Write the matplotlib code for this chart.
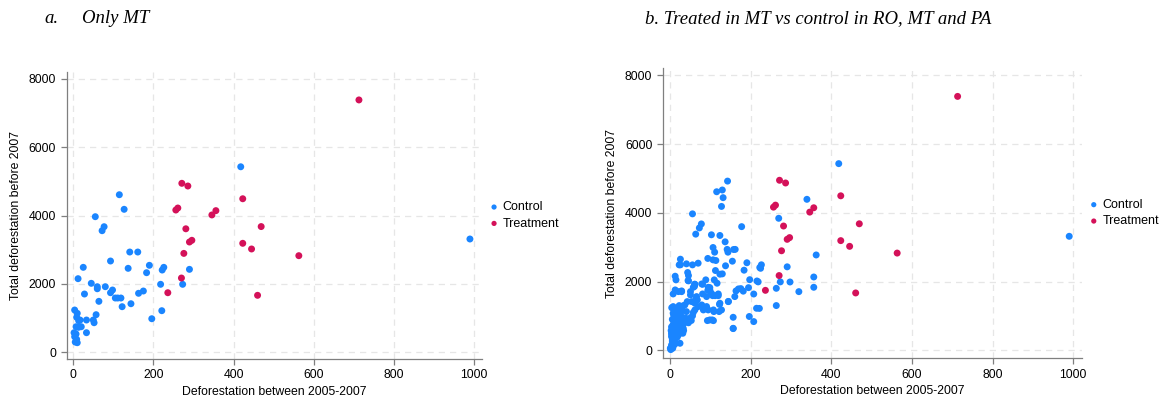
import matplotlib
matplotlib.use('Agg')
import matplotlib.pyplot as plt
import numpy as np

# -------------------------------------------------------------------
# data (x = deforestation 2005-2007, y = total before 2007)
# control municipalities in MT
ctrl_mt_x = [418, 115, 127, 55, 77, 72, 141, 161, 93, 137, 190, 183, 226, 222, 290,
             25, 12, 45, 28, 60, 60, 80, 98, 93, 105, 111, 119, 122, 64, 144,
             163, 175, 218, 273, 221, 196, 57, 50, 52, 33, 33, 3.5, 10, 8.5, 13.5,
             17, 7, 13, 20, 2, 7, 3.5, 8.5, 5, 10, 990]
ctrl_mt_y = [5430, 4612, 4185, 3969, 3676, 3559, 2935, 2935, 2672, 2458, 2546, 2330, 2487, 2408, 2428,
             2487, 2155, 2019, 1706, 1920, 1860, 1920, 1823, 1744, 1589, 1589, 1589, 1335, 1492, 1422,
             1727, 1794, 1990, 1990, 1218, 983, 1101, 945, 866, 574, 945, 1238, 1141, 1024, 925,
             945, 749, 731, 749, 574, 536, 457, 380, 301, 281, 3316]

# extra control municipalities (RO, PA and rest of MT) shown only in panel b
ctrl_other_x = [142, 129, 131, 339, 269, 177, 63, 102, 123, 136, 106, 110, 143, 157, 154,
                362, 106, 113, 69, 40, 25, 22, 55, 43, 45, 14, 44, 88, 112, 109,
                123, 129, 116, 197, 215, 207, 156, 207, 263, 263, 297, 319, 356, 356, 108,
                92, 104, 90, 121, 61, 57, 78, 94, 98, 102, 119, 169, 160, 214,
                12, 20, 28, 7, 50, 50, 80, 65, 67, 61, 53, 42, 36, 31, 90,
                94, 107, 123, 127, 144, 98, 107, 156, 156, 20, 22, 24, 40, 39, 49,
                61, 69, 78, 82, 7, 7, 9, 12, 9, 3, 3, 7, 14, 24, 3,
                0, 16, 20, 24, 32, 31, 34, 1, 2, 4, 5, 6, 8, 10, 12,
                3, 15, 18, 26, 5, 11, 14, 22, 30, 36, 45, 55, 25, 17, 9,
                6, 194, 181, 224]
ctrl_other_y = [4922, 4663, 4440, 4392, 3840, 3597, 3379, 3360, 3340, 3155, 2990, 2854, 2854, 2932, 2592,
                2773, 2631, 2612, 2534, 2515, 2650, 2485, 2485, 2262, 2175, 2049, 2029, 2049, 2320, 2049,
                2214, 2223, 1951, 2054, 2016, 1637, 631, 835, 1301, 1803, 1987, 1706, 2132, 1833, 1126,
                864, 883, 1272, 1126, 1921, 1833, 1930, 1833, 1756, 1659, 1639, 1785, 1562, 1222,
                1756, 1707, 1727, 1639, 1707, 1610, 1639, 1562, 1465, 1368, 1416, 1416, 1319, 1290, 1562,
                1174, 1174, 1368, 1174, 1416, 883, 863, 960, 640, 1174, 1028, 883, 1125, 931, 883,
                1174, 1271, 1319, 1174, 1271, 1077, 883, 737, 592, 495, 398, 301, 204, 204, 155,
                58, 592, 446, 689, 640, 495, 786, 20, 80, 120, 260, 350, 420, 520, 610,
                680, 800, 950, 1000, 900, 1100, 1200, 1300, 1150, 900, 800, 1000, 560, 380, 150,
                60, 1822, 1720, 2385]

# treated municipalities in MT (same in both panels)
treat_x = [271, 286, 256, 261, 346, 356, 423, 281, 290, 296, 276, 270, 236,
           423, 445, 469, 460, 563, 713]
treat_y = [4946, 4867, 4164, 4223, 4020, 4146, 4494, 3615, 3228, 3278, 2895, 2174, 1744,
           3190, 3024, 3680, 1668, 2828, 7386]

titles = ['a.', 'Only MT', 'b. Treated in MT vs control in RO, MT and PA']
xlab = 'Deforestation between 2005-2007'
ylab = 'Total deforestation before 2007'
c_ctrl = '#1a85ff'
c_treat = '#d41159'

plt.rcParams['font.family'] = ['Liberation Sans', 'DejaVu Sans']

fig = plt.figure(figsize=(11.63, 3.97), dpi=100)
ax1 = fig.add_axes([0.0573, 0.0957, 0.3571, 0.7229])
ax2 = fig.add_axes([0.5698, 0.0975, 0.3603, 0.7312])

panels = [
    (ax1, ctrl_mt_x, ctrl_mt_y, (-16.5, 1020), (-196, 8203)),
    (ax2, ctrl_mt_x + ctrl_other_x, ctrl_mt_y + ctrl_other_y, (-19, 1021), (-233, 8212)),
]

for ax, cx, cy, xl, yl in panels:
    ax.scatter(cx, cy, s=25, color=c_ctrl, edgecolors='none', label='Control', zorder=3)
    ax.scatter(treat_x, treat_y, s=25, color=c_treat, edgecolors='none', label='Treatment', zorder=3)
    ax.set_xlim(xl)
    ax.set_ylim(yl)
    ax.set_xticks(np.arange(0, 1001, 200))
    ax.set_yticks(np.arange(0, 8001, 2000))
    ax.grid(True, linestyle=(0, (5, 4)), color='#e6e6e6', linewidth=0.9, zorder=0)
    ax.set_axisbelow(True)
    for s in ['top', 'right']:
        ax.spines[s].set_visible(False)
    for s in ['left', 'bottom']:
        ax.spines[s].set_color('#7f7f7f')
        ax.spines[s].set_linewidth(0.9)
    ax.tick_params(colors='#7f7f7f', labelcolor='black', labelsize=8.8, length=4, width=0.9)
    ax.set_xlabel(xlab, fontsize=8.8, labelpad=3)
    ax.set_ylabel(ylab, fontsize=8.8, labelpad=5)
    ax.legend(loc='center left', bbox_to_anchor=(0.99, 0.5), frameon=False, fontsize=9,
              handletextpad=0.1, handlelength=1.2, borderaxespad=0.3, labelspacing=0.35,
              markerscale=0.75)

fig.text(0.0385, 0.953, titles[0], fontsize=13.5, family=['Liberation Serif'], style='italic', va='center')
fig.text(0.0705, 0.953, titles[1], fontsize=13.5, family=['Liberation Serif'], style='italic', va='center')
fig.text(0.5545, 0.953, titles[2], fontsize=13.5, family=['Liberation Serif'], style='italic', va='center')

plt.savefig('out.png', dpi=100)
